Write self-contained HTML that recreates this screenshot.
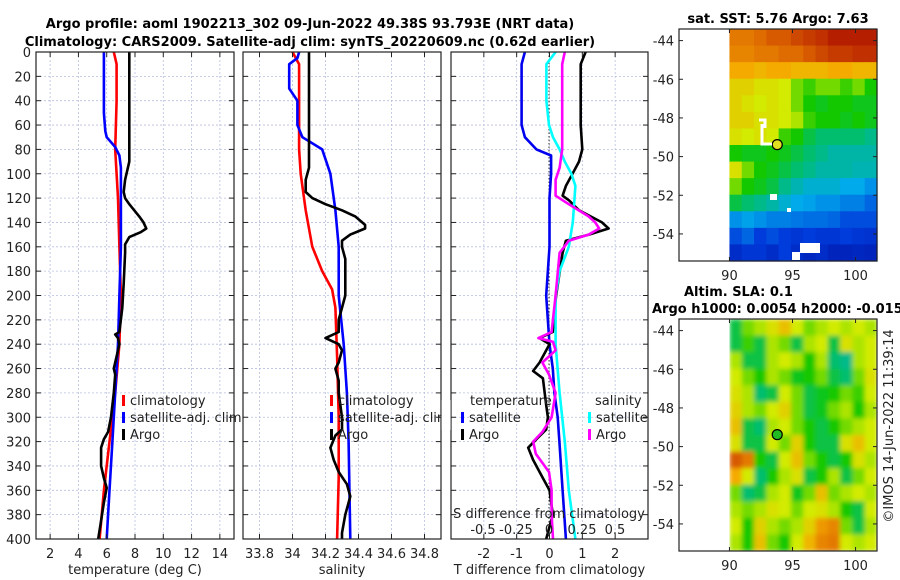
<!DOCTYPE html>
<html><head><meta charset="utf-8">
<style>
body{margin:0;background:#fff;}
svg{display:block;font-family:"DejaVu Sans","Liberation Sans",sans-serif;}
.t{font-size:13px;fill:#222;}
.b{font-size:13px;font-weight:bold;fill:#000;}
</style></head>
<body>
<svg id="fig" width="900" height="580" viewBox="0 0 900 580">
<defs>
<filter id="soft" x="0" y="0" width="1" height="1"><feGaussianBlur stdDeviation="2.5" edgeMode="duplicate"/></filter>
<clipPath id="slaclip"><rect x="729.5" y="319" width="147.5" height="232"/></clipPath>
</defs>
</svg>
<script>
// ---- data ----
const depthTicks=[0,20,40,60,80,100,120,140,160,180,200,220,240,260,280,300,320,340,360,380,400];
const tempTicks=[2,4,6,8,10,12,14];
const salTicks=[33.8,34,34.2,34.4,34.6,34.8];
const tdiffTicks=[-2,-1,0,1,2];
const sdiffTicks=[-0.5,-0.25,0,0.25,0.5];
const sdiffTickLabels=["-0.5","-0.25","0","0.25","0.5"];

const argoTDepth=[0,10,60,90,95,105,115,120,125,135,140,145,148,152,158,165,190,210,230,232,235,240,250,260,265,280,300,312,318,325,340,350,358,370,385,400];
const argoTVal=[7.6,7.6,7.6,7.6,7.5,7.3,7.2,7.3,7.6,8.3,8.6,8.8,8.4,7.6,7.3,7.3,7.2,7.1,6.9,6.6,6.8,6.9,6.7,6.5,6.6,6.5,6.3,6.1,5.8,5.6,5.6,5.8,6.0,5.8,5.6,5.4];
const climTDepth=[0,5,10,40,80,120,160,200,240,280,320,360,400];
const climTVal=[6.5,6.6,6.7,6.7,6.6,6.8,6.9,7.0,6.9,6.6,6.2,5.8,5.5];
const satTDepth=[0,20,50,65,70,78,85,95,120,160,200,240,280,320,360,400];
const satTVal=[5.8,5.8,5.8,5.9,6.0,6.6,6.9,7.0,7.0,7.0,6.9,6.8,6.6,6.4,6.2,6.0];

const argoSDepth=[0,90,95,105,115,120,125,130,135,142,145,150,155,160,170,200,220,230,235,240,245,255,260,270,280,300,310,315,325,335,345,355,365,380,395,400];
const argoSVal=[34.1,34.1,34.1,34.08,34.08,34.12,34.2,34.3,34.38,34.44,34.44,34.35,34.3,34.3,34.32,34.32,34.28,34.28,34.2,34.28,34.3,34.28,34.26,34.28,34.28,34.3,34.3,34.26,34.23,34.25,34.28,34.33,34.35,34.32,34.3,34.3];
const climSDepth=[0,5,10,50,80,100,130,160,180,195,210,250,300,350,400];
const climSVal=[34.0,34.02,34.04,34.04,34.04,34.05,34.08,34.12,34.18,34.24,34.26,34.27,34.28,34.28,34.27];
const satSDepth=[0,5,10,30,40,60,70,80,100,130,160,200,240,280,320,400];
const satSVal=[34.04,34.03,33.98,33.98,34.03,34.03,34.06,34.18,34.23,34.26,34.28,34.28,34.31,34.33,34.34,34.35];

const satTdDepth=[0,10,60,70,80,85,100,120,160,200,240,260,280,300,320,360,400];
const satTdVal=[-0.75,-0.85,-0.85,-0.75,-0.4,0.05,0.05,0,0,-0.1,0,0.1,0.15,0.25,0.3,0.4,0.5];
const argoTdDepth=[0,10,60,80,90,100,110,118,122,130,140,145,150,155,165,200,230,235,240,255,262,268,290,300,310,318,325,335,350,360,380,400];
const argoTdVal=[1.1,0.95,0.95,1.0,0.9,0.7,0.5,0.4,0.6,0.9,1.6,1.8,1.2,0.5,0.4,0.2,0.1,-0.3,0.0,-0.3,-0.5,-0.2,-0.1,-0.05,-0.1,-0.4,-0.65,-0.5,-0.2,0.0,0.1,-0.1];
const satSdDepth=[0,10,40,60,70,80,90,100,110,140,160,180,200,240,280,320,360,400];
const satSdVal=[0.05,-0.02,-0.02,0,0.03,0.08,0.12,0.17,0.2,0.18,0.15,0.08,0.05,0.05,0.08,0.12,0.15,0.2];
const argoSdDepth=[0,10,80,95,105,118,125,135,140,145,150,155,165,200,230,235,238,245,255,265,280,300,312,320,330,345,360,380,400];
const argoSdVal=[0.12,0.1,0.1,0.08,0.05,0.05,0.15,0.3,0.35,0.38,0.3,0.15,0.08,0.05,0.02,-0.08,0.03,0.05,-0.05,0,0.05,0.02,-0.05,-0.12,-0.1,0,0.02,0.02,0.03];

const lonTicks=[90,95,100];
const latTicks=[-44,-46,-48,-50,-52,-54];
const argoLon=93.79, argoLat=-49.38;
const sstGrid=[
[0.8,0.8,0.82,0.85,0.85,0.88,0.9,0.92,0.95,0.95,0.95,0.95],
[0.78,0.78,0.8,0.8,0.82,0.82,0.85,0.88,0.9,0.9,0.92,0.92],
[0.72,0.72,0.7,0.72,0.72,0.7,0.7,0.7,0.72,0.72,0.7,0.7],
[0.65,0.65,0.62,0.62,0.6,0.55,0.52,0.55,0.55,0.52,0.55,0.5],
[0.65,0.62,0.6,0.62,0.6,0.55,0.5,0.48,0.5,0.5,0.48,0.48],
[0.65,0.65,0.62,0.62,0.6,0.58,0.52,0.5,0.5,0.48,0.5,0.48],
[0.62,0.6,0.62,0.6,0.52,0.5,0.45,0.42,0.42,0.42,0.42,0.4],
[0.5,0.48,0.48,0.5,0.48,0.45,0.42,0.4,0.38,0.38,0.38,0.38],
[0.62,0.55,0.5,0.48,0.45,0.42,0.4,0.38,0.38,0.38,0.37,0.37],
[0.55,0.5,0.48,0.45,0.4,0.37,0.35,0.35,0.35,0.33,0.33,0.3],
[0.45,0.42,0.4,0.38,0.35,0.33,0.32,0.3,0.3,0.28,0.28,0.25],
[0.3,0.32,0.3,0.28,0.28,0.27,0.26,0.26,0.25,0.22,0.22,0.22],
[0.22,0.25,0.2,0.22,0.2,0.18,0.2,0.18,0.18,0.2,0.18,0.17],
[0.15,0.18,0.18,0.15,0.2,0.15,0.13,0.15,0.12,0.12,0.13,0.12]];
const slaGrid=[
[0.45,0.55,0.58,0.62,0.68,0.6,0.55,0.58,0.6,0.58,0.6,0.58],
[0.45,0.52,0.45,0.58,0.55,0.45,0.58,0.6,0.45,0.62,0.58,0.6],
[0.58,0.45,0.45,0.58,0.6,0.58,0.5,0.58,0.42,0.4,0.58,0.6],
[0.6,0.55,0.5,0.58,0.55,0.48,0.5,0.55,0.45,0.42,0.55,0.62],
[0.62,0.58,0.42,0.45,0.6,0.55,0.45,0.48,0.5,0.55,0.52,0.6],
[0.65,0.58,0.55,0.6,0.65,0.55,0.45,0.48,0.55,0.58,0.5,0.58],
[0.68,0.45,0.42,0.58,0.6,0.55,0.5,0.45,0.5,0.55,0.58,0.6],
[0.62,0.45,0.45,0.6,0.55,0.65,0.5,0.45,0.45,0.62,0.68,0.6],
[0.85,0.8,0.5,0.45,0.6,0.68,0.55,0.5,0.45,0.5,0.62,0.58],
[0.72,0.6,0.42,0.5,0.58,0.62,0.45,0.5,0.58,0.45,0.55,0.6],
[0.55,0.42,0.45,0.58,0.6,0.48,0.55,0.68,0.55,0.58,0.6,0.58],
[0.58,0.55,0.58,0.62,0.6,0.55,0.6,0.62,0.58,0.5,0.45,0.6],
[0.6,0.5,0.65,0.58,0.55,0.58,0.65,0.75,0.78,0.55,0.45,0.58],
[0.58,0.5,0.68,0.55,0.5,0.6,0.7,0.78,0.8,0.6,0.58,0.6]];

// ---- drawing ----
const NS="http://www.w3.org/2000/svg";
const svg=document.getElementById('fig');
function mk(tag,attrs,parent){const e=document.createElementNS(NS,tag);for(const k in attrs)e.setAttribute(k,attrs[k]);(parent||svg).appendChild(e);return e;}
function txt(x,y,s,cls,anchor,parent){const e=mk('text',{x:x,y:y,class:cls||'t','text-anchor':anchor||'middle'},parent);e.textContent=s;return e;}

const PT=52,PB=539;
const yD=d=>PT+(d/400)*(PB-PT);
function makePanel(name,x0,x1,xmin,xmax,ticks,labels,xlabel){
  const g=mk('g',{});
  
  
  const sx=v=>x0+(v-xmin)/(xmax-xmin)*(x1-x0);
  depthTicks.forEach(d=>{mk('line',{x1:x0,x2:x1,y1:yD(d),y2:yD(d),stroke:'#b8bfe0','stroke-width':0.8,'stroke-dasharray':'2,2'},g);});
  ticks.forEach(t=>{mk('line',{x1:sx(t),x2:sx(t),y1:PT,y2:PB,stroke:'#b8bfe0','stroke-width':0.8,'stroke-dasharray':'2,2'},g);});
  return {g,sx,x0,x1,xmin,xmax,ticks,labels,xlabel};
}
function finishPanel(p,showY){
  const g=p.g;
  mk('rect',{x:p.x0,y:PT,width:p.x1-p.x0,height:PB-PT,fill:'none',stroke:'#222','stroke-width':1.2},g);
  depthTicks.forEach(d=>{
    mk('line',{x1:p.x0,x2:p.x0+5,y1:yD(d),y2:yD(d),stroke:'#222'},g);
    mk('line',{x1:p.x1-5,x2:p.x1,y1:yD(d),y2:yD(d),stroke:'#222'},g);
    if(showY){const t=txt(p.x0-5,yD(d)+5,String(d),'t','end',g);}
  });
  p.ticks.forEach((t,i)=>{
    mk('line',{x1:p.sx(t),x2:p.sx(t),y1:PB,y2:PB-5,stroke:'#222'},g);
    mk('line',{x1:p.sx(t),x2:p.sx(t),y1:PT,y2:PT+5,stroke:'#222'},g);
    const l=txt(p.sx(t),PB+19,p.labels[i],'t','middle',g);
    
    
  });
  const xl=txt((p.x0+p.x1)/2,PB+35,p.xlabel,'t','middle',g);
  
  
}
function line(p,depths,vals,color,name,sxf){
  const f=sxf||p.sx;
  const pts=depths.map((d,i)=>f(vals[i]).toFixed(1)+','+yD(d).toFixed(1)).join(' ');
  const e=mk('polyline',{points:pts,fill:'none',stroke:color,'stroke-width':2.6,'stroke-linejoin':'round'},p.g);
  
  
}
function legendEntry(g,x,y,color,label,name){
  mk('rect',{x:x,y:y-10,width:3,height:11,fill:color},g);
  const t=txt(x+8,y,label,'t','start',g);
  
  
}

// Panel 1 temperature
const p1=makePanel('temperature-panel',36,234,1,15,tempTicks,tempTicks.map(String),'temperature (deg C)');
line(p1,climTDepth,climTVal,'#f00','climatology-temperature-line');
line(p1,satTDepth,satTVal,'#00f','satellite-temperature-line');
line(p1,argoTDepth,argoTVal,'#000','argo-temperature-line');
legendEntry(p1.g,122,405,'#f00','climatology','legend-climatology');
legendEntry(p1.g,122,422,'#00f','satellite-adj. clim','legend-satellite');
legendEntry(p1.g,122,439,'#000','Argo','legend-argo');
finishPanel(p1,true);

// Panel 2 salinity
const p2=makePanel('salinity-panel',243,441,33.7,34.9,salTicks,salTicks.map(String),'salinity');
line(p2,climSDepth,climSVal,'#f00','climatology-salinity-line');
line(p2,satSDepth,satSVal,'#00f','satellite-salinity-line');
line(p2,argoSDepth,argoSVal,'#000','argo-salinity-line');
legendEntry(p2.g,330,405,'#f00','climatology','legend-climatology');
legendEntry(p2.g,330,422,'#00f','satellite-adj. clim','legend-satellite');
legendEntry(p2.g,330,439,'#000','Argo','legend-argo');
finishPanel(p2,false);

// Panel 3 difference
const p3=makePanel('difference-panel',451,648,-3,3,tdiffTicks,tdiffTicks.map(String),'T difference from climatology');
mk('rect',{x:441.6,y:400,width:9,height:30,fill:'#fff'});
const sxS=v=>549+v*132;
mk('line',{x1:549,x2:549,y1:PT,y2:PB,stroke:'#333','stroke-width':1,'stroke-dasharray':'1.5,2'},p3.g);
line(p3,satTdDepth,satTdVal,'#0000ee','satellite-t-diff-line');
line(p3,argoTdDepth,argoTdVal,'#000','argo-t-diff-line');
line(p3,satSdDepth,satSdVal,'#00ffff','satellite-s-diff-line',sxS);
line(p3,argoSdDepth,argoSdVal,'#ff00ff','argo-s-diff-line',sxS);
txt(470,405,'temperature','t','start',p3.g);
legendEntry(p3.g,461,422,'#00f','satellite','legend-t-satellite');
legendEntry(p3.g,461,439,'#000','Argo','legend-t-argo');
txt(595,405,'salinity','t','start',p3.g);
legendEntry(p3.g,588,422,'#0ff','satellite','legend-s-satellite');
legendEntry(p3.g,588,439,'#f0f','Argo','legend-s-argo');
const st=txt(549,518,'S difference from climatology','t','middle',p3.g);

sdiffTicks.forEach((t,i)=>{const l=txt(sxS(t),534,sdiffTickLabels[i],'t','middle',p3.g);});
finishPanel(p3,false);

// Titles
const t1=txt(310,28,'Argo profile: aoml 1902213_302 09-Jun-2022 49.38S 93.793E (NRT data)','b');

const t2=txt(310,46,'Climatology: CARS2009. Satellite-adj clim: synTS_20220609.nc (0.62d earlier)','b');


// Maps
const cmapStops=[[0,[0,0,140]],[0.2,[0,60,220]],[0.33,[0,170,235]],[0.42,[0,190,110]],[0.5,[20,200,0]],[0.6,[210,235,0]],[0.72,[245,170,0]],[0.85,[215,90,0]],[1,[165,0,0]]];
function cmap(v){
  v=Math.max(0,Math.min(1,v));
  for(let i=1;i<cmapStops.length;i++){
    const [a,ca]=cmapStops[i-1],[b,cb]=cmapStops[i];
    if(v<=b){const f=(v-a)/(b-a);return 'rgb('+ca.map((c,k)=>Math.round(c+(cb[k]-c)*f)).join(',')+')';}
  }
  return 'rgb(165,0,0)';
}
function makeMap(name,top,grid,markerFill,smooth){
  const g=mk('g',{});
  
  
  const X0=679,X1=877,Y0=top,Y1=top+232;
  const lonMin=86,lonMax=101.7,latMax=-43.4,latMin=-55.4;
  const sx=l=>X0+(l-lonMin)/(lonMax-lonMin)*(X1-X0);
  const sy=l=>Y0+(latMax-l)/(latMax-latMin)*(Y1-Y0);
  const gx0=90,gx1=101.7;
  const rows=grid.length,cols=grid[0].length;
  const dl=(gx1-gx0)/cols,dlat=(latMax-latMin)/rows;
  let cg=g;
  if(smooth){const outer=mk('g',{'clip-path':'url(#slaclip)'},g);cg=mk('g',{filter:'url(#soft)'},outer);}
  grid.forEach((row,r)=>row.forEach((v,c)=>{
    const cell=mk('rect',{x:sx(gx0+c*dl),y:sy(latMax-r*dlat),width:(sx(gx0+dl)-sx(gx0))+0.6,height:(sy(latMax-dlat)-sy(latMax))+0.6,fill:cmap(v)},cg);
    
    
  }));
  mk('rect',{x:X0,y:Y0,width:X1-X0,height:Y1-Y0,fill:'none',stroke:'#222','stroke-width':1.2},g);
  lonTicks.forEach(l=>{mk('line',{x1:sx(l),x2:sx(l),y1:Y1,y2:Y1-4,stroke:'#222'},g);mk('line',{x1:sx(l),x2:sx(l),y1:Y0,y2:Y0+4,stroke:'#222'},g);const t=txt(sx(l),Y1+19,String(l),'t','middle',g);});
  latTicks.forEach(l=>{mk('line',{x1:X0,x2:X0+4,y1:sy(l),y2:sy(l),stroke:'#222'},g);mk('line',{x1:X1,x2:X1-4,y1:sy(l),y2:sy(l),stroke:'#222'},g);const t=txt(X0-5,sy(l)+5,String(l),'t','end',g);});
  const m=mk('circle',{cx:sx(argoLon),cy:sy(argoLat),r:5,fill:markerFill,stroke:'#000','stroke-width':1.2},g);
  
  
  return {g,sx,sy};
}
const m1=makeMap('sst-map',29,sstGrid,'#e0e020',false);
mk('path',{d:'M759 120 h6 v8 M762 124 v20 h10',stroke:'#fff','stroke-width':3,fill:'none'},m1.g);
mk('rect',{x:770,y:194,width:7,height:6,fill:'#fff'},m1.g);
mk('rect',{x:787,y:208,width:4,height:4,fill:'#fff'},m1.g);
mk('rect',{x:800,y:243,width:20,height:10,fill:'#fff'},m1.g);
mk('rect',{x:792,y:252,width:8,height:8,fill:'#fff'},m1.g);
const mt1=txt(778,23,'sat. SST: 5.76 Argo: 7.63','b');

const m2=makeMap('sla-map',319,slaGrid,'#22bb22',true);
const mt2=txt(684,296,'Altim. SLA: 0.1','b','start');

const mt3=txt(652,313,'Argo h1000: 0.0054 h2000: -0.015','b','start');

const cr=txt(0,0,'©IMOS 14-Jun-2022 11:39:14','t','middle');
cr.setAttribute('transform','translate(893,426) rotate(-90)');

</script>
</body></html>
